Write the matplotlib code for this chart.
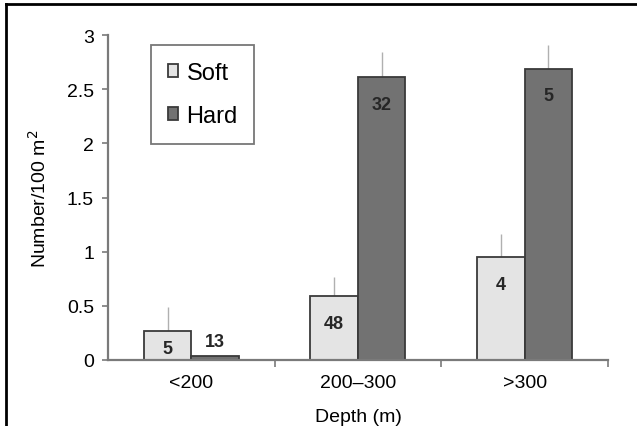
import numpy as np
import matplotlib.pyplot as plt
from matplotlib.lines import Line2D

plt.rcParams['font.family'] = ['Liberation Sans', 'DejaVu Sans']

# ----------------------------------------
# Data
# ----------------------------------------
categories = ["<200", "200\u2013300", ">300"]
soft_mean = [0.27, 0.59, 0.95]
hard_mean = [0.04, 2.61, 2.69]
soft_err = [0.22, 0.18, 0.21]   # upper error only
hard_err = [0.0, 0.23, 0.22]
soft_n = ["5", "48", "4"]
hard_n = ["13", "32", "5"]

fig = plt.figure(figsize=(6.37, 4.27), dpi=100)
ax = fig.add_axes([0.1695, 0.1546, 0.785, 0.761])

x = np.arange(len(categories))
w = 0.285
edge = "#3a3a3a"
axis_col = "#7a7a7a"

ax.bar(x - w / 2, soft_mean, w, color="#e4e4e4", edgecolor=edge,
       linewidth=1.3, label="Soft", zorder=2)
ax.bar(x + w / 2, hard_mean, w, color="#727272", edgecolor=edge,
       linewidth=1.3, label="Hard", zorder=2)

# upper-only error bars
for xs, m, e in [(x - w / 2, soft_mean, soft_err), (x + w / 2, hard_mean, hard_err)]:
    m = np.array(m)
    e = np.array(e)
    keep = e > 0
    ax.vlines(xs[keep], m[keep], m[keep] + e[keep], color="#b0b0b0",
              linewidth=1.0, zorder=1)


def label_y(m):
    # inside near the top for tall bars, above for very short ones
    if m < 0.1:
        return m + 0.13
    if m < 0.5:
        return m * 0.38
    return m - 0.25


for xi, m, t in list(zip(x - w / 2, soft_mean, soft_n)) + list(zip(x + w / 2, hard_mean, hard_n)):
    ax.text(xi, label_y(m), t, ha="center", va="center", fontsize=13,
            fontweight="bold", color="#262626", zorder=3)

ax.set_xlim(-0.5, 2.5)
ax.set_ylim(0, 3)
ax.set_yticks(np.arange(0, 3.01, 0.5))
ax.set_yticklabels(["0", "0.5", "1", "1.5", "2", "2.5", "3"])

# category boundaries as ticks, labels at centres
ax.set_xticks([0.5, 1.5, 2.5])
ax.set_xticklabels([])
ax.set_xticks(x, minor=True)
ax.set_xticklabels(categories, minor=True)
ax.tick_params(axis="x", which="major", length=5, width=1.2, color=axis_col)
ax.tick_params(axis="x", which="minor", length=0, labelsize=14, pad=10)
ax.tick_params(axis="y", length=4, width=1.2, color=axis_col, labelsize=14, pad=6)

for s in ["top", "right"]:
    ax.spines[s].set_visible(False)
for s in ["left", "bottom"]:
    ax.spines[s].set_color(axis_col)
    ax.spines[s].set_linewidth(1.6)

ax.set_xlabel("Depth (m)", fontsize=14, labelpad=12)
ax.set_ylabel("Number/100 m$^2$", fontsize=14, labelpad=12)

leg = ax.legend(loc="upper left", bbox_to_anchor=(0.086, 0.968), fontsize=17,
                frameon=True, fancybox=False, edgecolor="#555555",
                handlelength=0.45, handleheight=0.45, handletextpad=0.35,
                labelspacing=0.9, borderpad=0.7, borderaxespad=0)
leg.get_frame().set_linewidth(1.3)

# figure frame (left and top edges only, as in the cropped scan)
fig.add_artist(Line2D([0.0095, 0.0095], [0, 0.988], transform=fig.transFigure,
                      color="black", linewidth=2))
fig.add_artist(Line2D([0.0095, 1.0], [0.988, 0.988], transform=fig.transFigure,
                      color="black", linewidth=2))

fig.savefig("out.png", dpi=100)
